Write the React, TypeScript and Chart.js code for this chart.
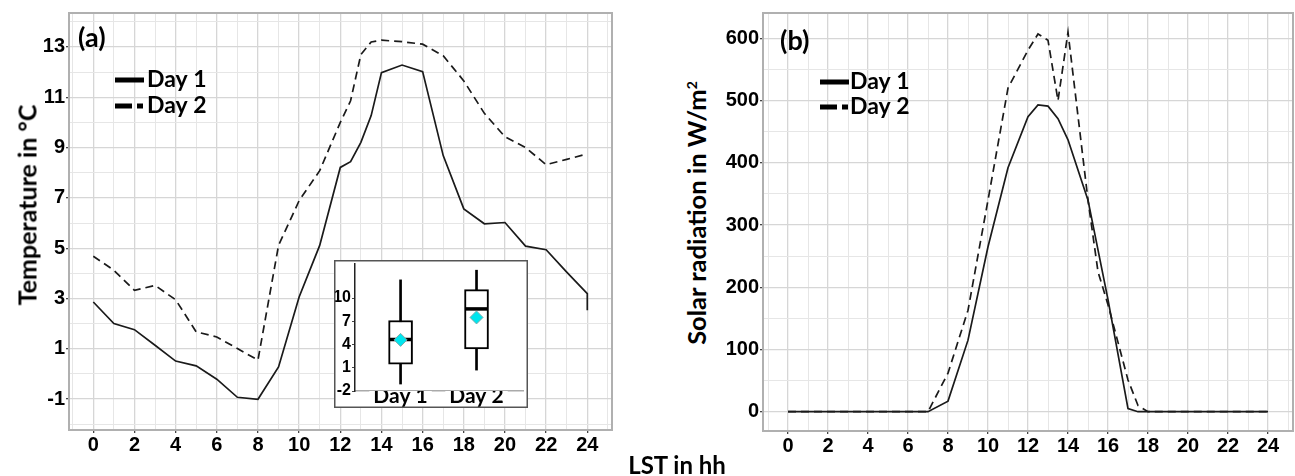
import React, { useEffect, useRef } from 'react';
import { Chart, registerables } from 'chart.js';
Chart.register(...registerables);

// ---------- Data ----------
const hoursT1 = [0,1,2,3,4,5,6,7,8,9,10,11,12,12.5,13,13.5,14,15,16,17,18,19,20,21,22,23,24,24];
const tempDay1 = [2.86,2.0,1.76,1.14,0.51,0.32,-0.21,-0.93,-1.01,0.28,3.06,5.11,8.21,8.44,9.21,10.27,11.98,12.28,12.02,8.68,6.56,5.97,6.02,5.08,4.94,4.05,3.19,2.53];
const hoursT2 = [0,1,2,3,4,5,6,7,8,9,10,11,12,12.5,13,13.5,14,15,16,17,18,19,20,21,22,23,24];
const tempDay2 = [4.68,4.12,3.32,3.52,2.95,1.67,1.47,1.01,0.55,5.11,6.89,8.08,10.0,10.86,12.7,13.2,13.27,13.21,13.11,12.65,11.65,10.36,9.43,9.0,8.32,8.53,8.75];

const hoursS1 = [0,1,2,3,4,5,6,7,8,9,10,11,12,12.5,13,13.5,14,15,16,17,17.5,18,19,20,21,22,23,24];
const solarDay1 = [0,0,0,0,0,0,0,0,17,115,265,392,474,493,491,471,437,340,180,5,0,0,0,0,0,0,0,0];
const hoursS2 = [0,1,2,3,4,5,6,7,8,9,10,11,12,12.5,13,13.5,14,15,15.5,16,17,17.5,18,19,20,21,22,23,24];
const solarDay2 = [0,0,0,0,0,0,0,0,62,163,340,520,581,607,597,500,610,340,225,172,51,10,0,0,0,0,0,0,0];

const tempTicks = [-1,1,3,5,7,9,11,13];
const solarTicks = [0,100,200,300,400,500,600];
const hourTicks = [0,2,4,6,8,10,12,14,16,18,20,22,24];

const boxLabels = ['Day 1','Day 2'];
const whiskerLow = [-1.1, 0.7];
const boxQ1 = [1.45, 3.45];
const boxMedian = [4.65, 8.6];
const boxQ3 = [7.1, 11.1];
const whiskerHigh = [12.35, 13.6];
const boxMean = [4.6, 7.5];
const insetTicks = [-2,1,4,7,10];

const seriesLabels = ['Day 1','Day 2'];

// ---------- helpers ----------
const TICK_FAMILY = "'Liberation Sans', Arial, sans-serif";
const TICK_FONT = { family: TICK_FAMILY, weight: 'bold' as const, size: 20 };
const TEXT_FAMILY = "Lato, 'Open Sans', sans-serif";

function range(a: number, b: number, step: number) {
  const out: number[] = [];
  for (let v = a; v <= b + 1e-9; v += step) out.push(Math.round(v * 1000) / 1000);
  return out;
}
function pts(xs: number[], ys: number[]) {
  return xs.map((x, i) => ({ x, y: ys[i] }));
}

function framePlugin(color: string, width: number) {
  return {
    id: 'frame',
    afterDraw(chart: any) {
      const { ctx, chartArea: a } = chart;
      ctx.save();
      ctx.strokeStyle = color;
      ctx.lineWidth = width;
      ctx.strokeRect(a.left, a.top, a.right - a.left, a.bottom - a.top);
      ctx.restore();
    },
  };
}

function overlayPlugin(panel: string, px: number, py: number, lx: number, y1: number, y2: number, tx: number) {
  return {
    id: 'overlay',
    afterDraw(chart: any) {
      const ctx = chart.ctx;
      ctx.save();
      ctx.fillStyle = '#000';
      ctx.textBaseline = 'middle';
      ctx.textAlign = 'left';
      ctx.font = `bold 27px ${TEXT_FAMILY}`;
      ctx.fillText(panel, px, py);
      ctx.strokeStyle = '#000';
      ctx.lineWidth = 5;
      ctx.lineCap = 'butt';
      ctx.beginPath();
      ctx.moveTo(lx, y1); ctx.lineTo(lx + 29, y1);
      ctx.moveTo(lx, y2); ctx.lineTo(lx + 17, y2);
      ctx.moveTo(lx + 22, y2); ctx.lineTo(lx + 28, y2);
      ctx.stroke();
      ctx.font = `bold 23px ${TEXT_FAMILY}`;
      ctx.fillText(seriesLabels[0], tx, y1);
      ctx.fillText(seriesLabels[1], tx, y2);
      ctx.restore();
    },
  };
}

function mainScales(xMin: number, xMax: number, yMin: number, yMax: number, yStep: number, yLabels: number[], yWidth: number, xHeight: number, majorY: (v: number) => boolean) {
  return {
    x: {
      type: 'linear' as const,
      min: xMin,
      max: xMax,
      afterBuildTicks: (s: any) => { s.ticks = range(-1, 25, 1).map((v) => ({ value: v })); },
      afterFit: (s: any) => { s.height = xHeight; },
      border: { display: false },
      grid: {
        color: (c: any) => (c.tick && c.tick.value % 2 === 0 ? '#d6d6d6' : '#e6e6e6'),
        lineWidth: (c: any) => (c.tick && c.tick.value % 2 === 0 ? 1.3 : 1),
        tickLength: 3,
        tickColor: (c: any) => (c.tick && hourTicks.includes(c.tick.value) ? '#444' : 'rgba(0,0,0,0)'),
      },
      ticks: {
        autoSkip: false,
        maxRotation: 0,
        padding: 0,
        color: '#000',
        font: TICK_FONT,
        callback: (v: any) => (hourTicks.includes(v) ? String(v) : ''),
      },
    },
    y: {
      type: 'linear' as const,
      min: yMin,
      max: yMax,
      afterBuildTicks: (s: any) => {
        const first = Math.ceil(yMin / yStep) * yStep;
        s.ticks = range(first, yMax, yStep).map((v) => ({ value: v }));
      },
      afterFit: (s: any) => { s.width = yWidth; },
      border: { display: false },
      grid: {
        color: (c: any) => (c.tick && majorY(c.tick.value) ? '#d6d6d6' : '#e6e6e6'),
        lineWidth: (c: any) => (c.tick && majorY(c.tick.value) ? 1.3 : 1),
        tickLength: 3,
        tickColor: (c: any) => (c.tick && yLabels.includes(c.tick.value) ? '#444' : 'rgba(0,0,0,0)'),
      },
      ticks: {
        autoSkip: false,
        padding: 1,
        color: '#000',
        font: TICK_FONT,
        callback: (v: any) => (yLabels.includes(v) ? String(v) : ''),
      },
    },
  };
}

const lineStyle = (dashed: boolean) => ({
  borderColor: '#1a1a1a',
  borderWidth: 1.7,
  pointRadius: 0,
  tension: 0,
  fill: false,
  borderDash: dashed ? [8, 5] : [],
});

// ---------- App ----------
export default function App() {
  const refA = useRef<HTMLCanvasElement>(null);
  const refB = useRef<HTMLCanvasElement>(null);
  const refI = useRef<HTMLCanvasElement>(null);

  useEffect(() => {
    const charts: Chart[] = [];

    // Panel (a)
    charts.push(new Chart(refA.current!, {
      type: 'line',
      data: {
        datasets: [
          { label: seriesLabels[0], data: pts(hoursT1, tempDay1), ...lineStyle(false) },
          { label: seriesLabels[1], data: pts(hoursT2, tempDay2), ...lineStyle(true) },
        ],
      },
      options: {
        responsive: false,
        animation: false,
        layout: { padding: { top: 12, right: 8, left: 0, bottom: 0 } },
        plugins: { legend: { display: false }, tooltip: { enabled: false } },
        scales: mainScales(-1.18, 25.2, -2.23, 14.35, 1, tempTicks, 69, 46, (v) => Math.abs(v % 2) === 1) as any,
      },
      plugins: [framePlugin('#b0b0b0', 2), overlayPlugin('(a)', 78, 38, 115, 80, 106, 147)],
    }));

    // Panel (b)
    const offB = 720;
    charts.push(new Chart(refB.current!, {
      type: 'line',
      data: {
        datasets: [
          { label: seriesLabels[0], data: pts(hoursS1, solarDay1), ...lineStyle(false) },
          { label: seriesLabels[1], data: pts(hoursS2, solarDay2), ...lineStyle(true) },
        ],
      },
      options: {
        responsive: false,
        animation: false,
        layout: { padding: { top: 13, right: 2, left: 0, bottom: 0 } },
        plugins: { legend: { display: false }, tooltip: { enabled: false } },
        scales: mainScales(-1.25, 25.25, -31, 640.7, 50, solarTicks, 763 - offB, 45, (v) => v % 100 === 0) as any,
      },
      plugins: [framePlugin('#b0b0b0', 2), overlayPlugin('(b)', 780 - offB, 41, 820 - offB, 82, 107, 850 - offB)],
    }));

    // Inset box plot
    const boxPos = boxLabels.map((_, i) => i + 1);
    charts.push(new Chart(refI.current!, {
      type: 'bar',
      data: {
        datasets: [
          {
            type: 'bar',
            data: boxPos.map((x, i) => ({ x, y: [whiskerLow[i], whiskerHigh[i]] })) as any,
            backgroundColor: '#000',
            barThickness: 2,
            grouped: false,
            order: 4,
          },
          {
            type: 'bar',
            data: boxPos.map((x, i) => ({ x, y: [boxQ1[i], boxQ3[i]] })) as any,
            backgroundColor: '#fff',
            borderColor: '#000',
            borderWidth: 2,
            borderSkipped: false,
            barThickness: 24,
            grouped: false,
            order: 3,
          },
          {
            type: 'line',
            data: boxPos.map((x, i) => ({ x, y: boxMedian[i] })) as any,
            showLine: false,
            pointStyle: 'line',
            pointRadius: 11,
            pointBorderColor: '#000',
            pointBorderWidth: 3.5,
            order: 2,
          },
          {
            type: 'line',
            data: boxPos.map((x, i) => ({ x, y: boxMean[i] })) as any,
            showLine: false,
            pointStyle: 'rectRot',
            pointRadius: 6.5,
            pointBackgroundColor: '#00e5ee',
            pointBorderColor: '#7aa',
            pointBorderWidth: 1,
            order: 1,
          },
        ] as any,
      },
      options: {
        responsive: false,
        animation: false,
        layout: { autoPadding: false, padding: { top: 4, right: 5, left: 0, bottom: 0 } },
        plugins: { legend: { display: false }, tooltip: { enabled: false } },
        scales: {
          x: {
            type: 'linear',
            offset: false,
            min: 0.4,
            max: 2.612,
            afterBuildTicks: (s: any) => { s.ticks = boxPos.map((v) => ({ value: v })); },
            afterFit: (s: any) => { s.height = 17; s.paddingLeft = 0; s.paddingRight = 0; },
            border: { display: true, color: '#aaaaaa', width: 1.5 },
            grid: { offset: false, drawOnChartArea: false, drawTicks: false },
            ticks: {
              autoSkip: false,
              maxRotation: 0,
              padding: -7,
              color: '#000',
              font: { family: TEXT_FAMILY, weight: 'bold', size: 21 },
              showLabelBackdrop: true,
              backdropColor: '#fff',
              backdropPadding: { left: 4, right: 4, top: 0, bottom: 0 },
              callback: (v: any) => boxLabels[Number(v) - 1] ?? '',
            },
          },
          y: {
            type: 'linear',
            min: -2,
            max: 14.4,
            afterBuildTicks: (s: any) => { s.ticks = insetTicks.map((v) => ({ value: v })); },
            afterFit: (s: any) => { s.width = 21; s.paddingTop = 0; s.paddingBottom = 0; },
            border: { display: true, color: '#222', width: 1.5 },
            grid: { drawOnChartArea: false, drawTicks: true, tickLength: 3, tickColor: '#444' },
            ticks: {
              autoSkip: false,
              padding: 1,
              color: '#000',
              font: { family: TICK_FAMILY, weight: 'bold', size: 16 },
            },
          },
        } as any,
      },
      plugins: [
        {
          id: 'insetFrame',
          beforeDraw(chart: any) {
            const ctx = chart.ctx;
            ctx.save();
            ctx.fillStyle = '#fff';
            ctx.fillRect(0, 0, chart.width, chart.height);
            ctx.restore();
          },
          afterDraw(chart: any) {
            const ctx = chart.ctx;
            ctx.save();
            ctx.strokeStyle = '#555';
            ctx.lineWidth = 1.5;
            ctx.strokeRect(0.75, 0.75, chart.width - 1.5, chart.height - 1.5);
            ctx.restore();
          },
        },
      ],
    }));

    return () => charts.forEach((c) => c.destroy());
  }, []);

  const titleStyle: React.CSSProperties = {
    position: 'absolute',
    fontFamily: TEXT_FAMILY,
    fontWeight: 'bold',
    fontSize: 25,
    color: '#000',
    whiteSpace: 'nowrap',
    lineHeight: 1,
  };

  return (
    <div style={{ position: 'absolute', left: 0, top: 0, width: 1295, height: 476, background: '#fff', overflow: 'hidden' }}>
      <canvas ref={refA} width={620} height={476} style={{ position: 'absolute', left: 0, top: 0 }} />
      <canvas ref={refB} width={575} height={476} style={{ position: 'absolute', left: 720, top: 0 }} />
      <canvas ref={refI} width={194} height={148} style={{ position: 'absolute', left: 334, top: 260 }} />
      <div style={{ ...titleStyle, left: 27, top: 205, transform: 'translate(-50%, -50%) rotate(-90deg)' }}>Temperature in °C</div>
      <div style={{ ...titleStyle, fontSize: 25.5, left: 697, top: 213, transform: 'translate(-50%, -50%) rotate(-90deg)' }}>
        Solar radiation in W/m<sup style={{ fontSize: 14, verticalAlign: 'super', lineHeight: 0 }}>2</sup>
      </div>
      <div style={{ ...titleStyle, fontSize: 24, left: 677, top: 465, transform: 'translate(-50%, -50%)' }}>LST in hh</div>
    </div>
  );
}
